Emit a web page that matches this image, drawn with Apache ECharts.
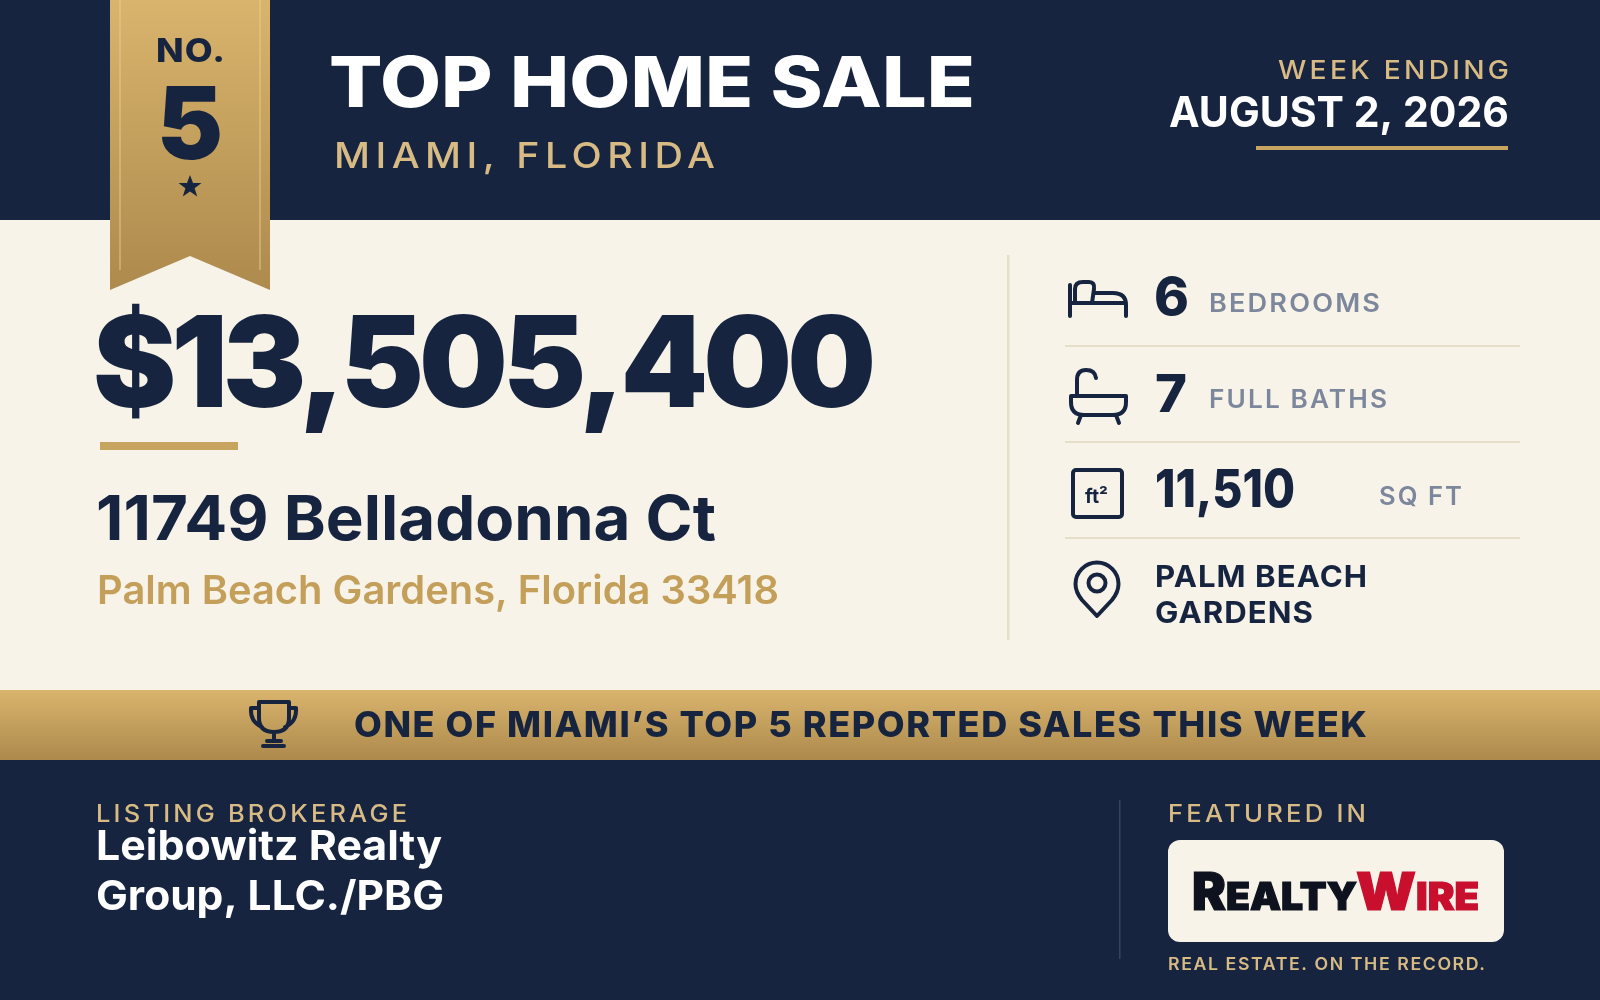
<!DOCTYPE html>
<html>
<head>
<meta charset="utf-8">
<title>Top Home Sale</title>
<style>
html, body { margin: 0; padding: 0; background: #f7f3e9; }
#chart { width: 1600px; height: 1000px; }
</style>
<script src="https://cdn.jsdelivr.net/npm/echarts@6/dist/echarts.min.js"></script>
</head>
<body>
<div id="chart"></div>
<script>
// content
var rankLabel = 'NO.';
var rankValue = '5';
var titleLines = ['TOP HOME SALE', 'MIAMI, FLORIDA'];
var weekLines = ['WEEK ENDING', 'AUGUST 2, 2026'];
var price = '$13,505,400';
var addressLines = ['11749 Belladonna Ct', 'Palm Beach Gardens, Florida 33418'];
var statValues = ['6', '7', '11,510'];
var statLabels = ['BEDROOMS', 'FULL BATHS', 'SQ FT'];
var cityLines = ['PALM BEACH', 'GARDENS'];
var bannerText = 'ONE OF MIAMI\u2019S TOP 5 REPORTED SALES THIS WEEK';
var brokerLabel = 'LISTING BROKERAGE';
var brokerLines = ['Leibowitz Realty', 'Group, LLC./PBG'];
var featuredLabel = 'FEATURED IN';
var logoParts = ['R', 'EALTY', 'W', 'IRE'];
var tagline = 'REAL ESTATE. ON THE RECORD.';

var NAVY = '#16243f', CREAM = '#f7f3e9', GOLD = '#d8bb84', GOLD2 = '#c49f5a', GREY = '#7d879c', RULE = '#e6dfc8';
var FONT = 'Inter';
var goldGrad = {
    type: 'linear', x: 0, y: 0, x2: 0, y2: 1,
    colorStops: [{offset: 0, color: '#d9b46d'}, {offset: 1, color: '#ad8a4d'}]
};

// zrender has no letter spacing, so it is set here per string
var tracking = {};
var fillText0 = CanvasRenderingContext2D.prototype.fillText;
CanvasRenderingContext2D.prototype.fillText = function (s, x, y) {
    this.letterSpacing = (tracking[s] || 0) + 'px';
    fillText0.call(this, s, x, y);
    this.letterSpacing = '0px';
};

var measureCtx = document.createElement('canvas').getContext('2d');

// text from left x to left x + w, sitting on a baseline
function label(s, x, base, w, size, weight, color, spacing) {
    var font = weight + ' ' + size + 'px ' + FONT;
    measureCtx.font = font;
    var nat = measureCtx.measureText(s).width;
    spacing = spacing || 0;
    if (spacing) tracking[s] = spacing;
    return {
        type: 'text', silent: true,
        x: x, y: base - size * 0.31, scaleX: w / (nat + spacing * (s.length - 1)),
        style: {x: 0, y: 0, text: s, font: font, fill: color, align: 'left', verticalAlign: 'middle'}
    };
}
// logo letters are heavier than Inter Black, a thin stroke thickens them
function logoLabel(s, x, base, w, size, color) {
    var el = label(s, x, base, w, size, 900, color);
    el.style.stroke = color;
    el.style.lineWidth = 1.2;
    return el;
}
function box(x, y, w, h, fill, r) {
    return {type: 'rect', silent: true, shape: {x: x, y: y, width: w, height: h, r: r || 0}, style: {fill: fill}};
}
// the graphic component only knows registered shapes, so each svg path gets one
var iconCount = 0;
function icon(d, filled) {
    var name = 'icon' + (iconCount++);
    echarts.graphic.registerShape(name, echarts.graphic.extendPath(d));
    return {
        type: name, silent: true, shape: {},
        style: filled ? {fill: NAVY} : {fill: null, stroke: NAVY, lineWidth: 4, lineCap: 'round', lineJoin: 'round'}
    };
}

var elements = [
    // bands
    box(0, 0, 1600, 220, NAVY),
    box(0, 690, 1600, 70, goldGrad),
    box(0, 760, 1600, 240, NAVY),

    // ribbon
    {type: 'polygon', silent: true, shape: {points: [[110, 0], [270, 0], [270, 290], [190, 256], [110, 290]]}, style: {fill: goldGrad}},
    box(119, 0, 2, 270, 'rgba(235,205,145,0.45)'),
    box(259, 0, 2, 270, 'rgba(235,205,145,0.45)'),
    label(rankLabel, 156, 62, 69, 33, 800, NAVY, 1),
    label(rankValue, 157, 160, 66, 100, 900, NAVY),
    icon('M190,175 L193,183 L201.5,183 L194.6,188.3 L197.2,196.5 L190,191.5 L182.8,196.5 L185.4,188.3 L178.5,183 L187,183 Z', true),

    // header
    label(titleLines[0], 329, 108, 646, 70, 800, '#ffffff'),
    label(titleLines[1], 334, 168, 381, 36, 500, GOLD, 5),
    label(weekLines[0], 1278, 79, 231, 26, 500, GOLD, 3),
    label(weekLines[1], 1169, 127, 340, 43, 700, '#ffffff'),
    box(1256, 146, 252, 4, '#c8a461'),

    // price + address
    label(price, 93, 408, 783, 126, 900, NAVY, -5),
    box(100, 442, 138, 8, '#c8a461'),
    label(addressLines[0], 96, 541, 620, 62, 700, NAVY),
    label(addressLines[1], 97, 604, 682, 40, 600, GOLD2),
    box(1007, 255, 2.5, 385, RULE),

    // stats
    icon('M1070,285 V316 M1070,303 H1126 M1075,303 V289 Q1075,282 1083,282 H1089 Q1095,282 1094,289 L1092,303 M1094,293 H1113 Q1126,293 1126,305 V316'),
    label(statValues[0], 1154, 315, 35, 52, 800, NAVY),
    label(statLabels[0], 1209, 312, 171, 25, 600, GREY, 2),
    box(1065, 345, 455, 2, RULE),

    icon('M1071,396 H1126 V402 Q1126,415 1113,415 H1084 Q1071,415 1071,402 Z M1081,415 L1078,423 M1116,415 L1119,423 M1077,396 V380 Q1077,370 1086,370 Q1095,370 1096,378'),
    label(statValues[1], 1155, 412, 32, 52, 800, NAVY),
    label(statLabels[1], 1209, 408, 178, 25, 600, GREY, 2),
    box(1065, 441, 455, 2, RULE),

    {type: 'rect', silent: true, shape: {x: 1073, y: 470, width: 49, height: 47, r: 3}, style: {fill: null, stroke: NAVY, lineWidth: 4}},
    label('ft\u00b2', 1085, 503, 23, 20, 700, NAVY),
    label(statValues[2], 1155, 507, 140, 52, 800, NAVY),
    label(statLabels[2], 1379, 505, 83, 25, 600, GREY, 2),
    box(1065, 537, 455, 2, RULE),

    icon('M1097,616 L1082,600 Q1075.5,592 1075.5,584 A21.5,21.5 0 0 1 1118.5,584 Q1118.5,592 1112,600 Z'),
    {type: 'circle', silent: true, shape: {cx: 1097, cy: 583, r: 8.5}, style: {fill: null, stroke: NAVY, lineWidth: 4}},
    label(cityLines[0], 1155, 587, 212, 30, 700, NAVY, 1),
    label(cityLines[1], 1155, 623, 158, 30, 700, NAVY, 1),

    // banner
    icon('M259,702 H289 V718 Q289,732 274,732 Q259,732 259,718 Z M259,708 H251 Q250,722 262,727 M289,708 H296 Q297,722 285,727 M274,732 V740 M267,741 H281 M263,746 H284'),
    label(bannerText, 354, 737, 1013, 35, 800, NAVY, 1.5),

    // footer
    label(brokerLabel, 96, 822, 311, 24, 500, GOLD, 3),
    label(brokerLines[0], 96, 860, 346, 41, 700, '#ffffff'),
    label(brokerLines[1], 96, 910, 348, 41, 700, '#ffffff'),
    box(1119, 800, 1.5, 159, '#35435f'),
    label(featuredLabel, 1168, 822, 198, 24, 500, GOLD, 3),
    box(1168, 840, 336, 102, CREAM, 12),
    logoLabel(logoParts[0], 1192, 910, 34, 52, '#0d121e'),
    logoLabel(logoParts[1], 1226, 910, 131, 38, '#0d121e'),
    logoLabel(logoParts[2], 1356, 910, 60, 52, '#c8102e'),
    logoLabel(logoParts[3], 1416, 910, 63, 38, '#c8102e'),
    label(tagline, 1168, 970, 317, 17, 600, GOLD, 1.5)
];

var chart = echarts.init(document.getElementById('chart'), null, {renderer: 'canvas'});
chart.setOption({
    backgroundColor: CREAM,
    animation: false,
    graphic: {elements: elements}
});
</script>
</body>
</html>
